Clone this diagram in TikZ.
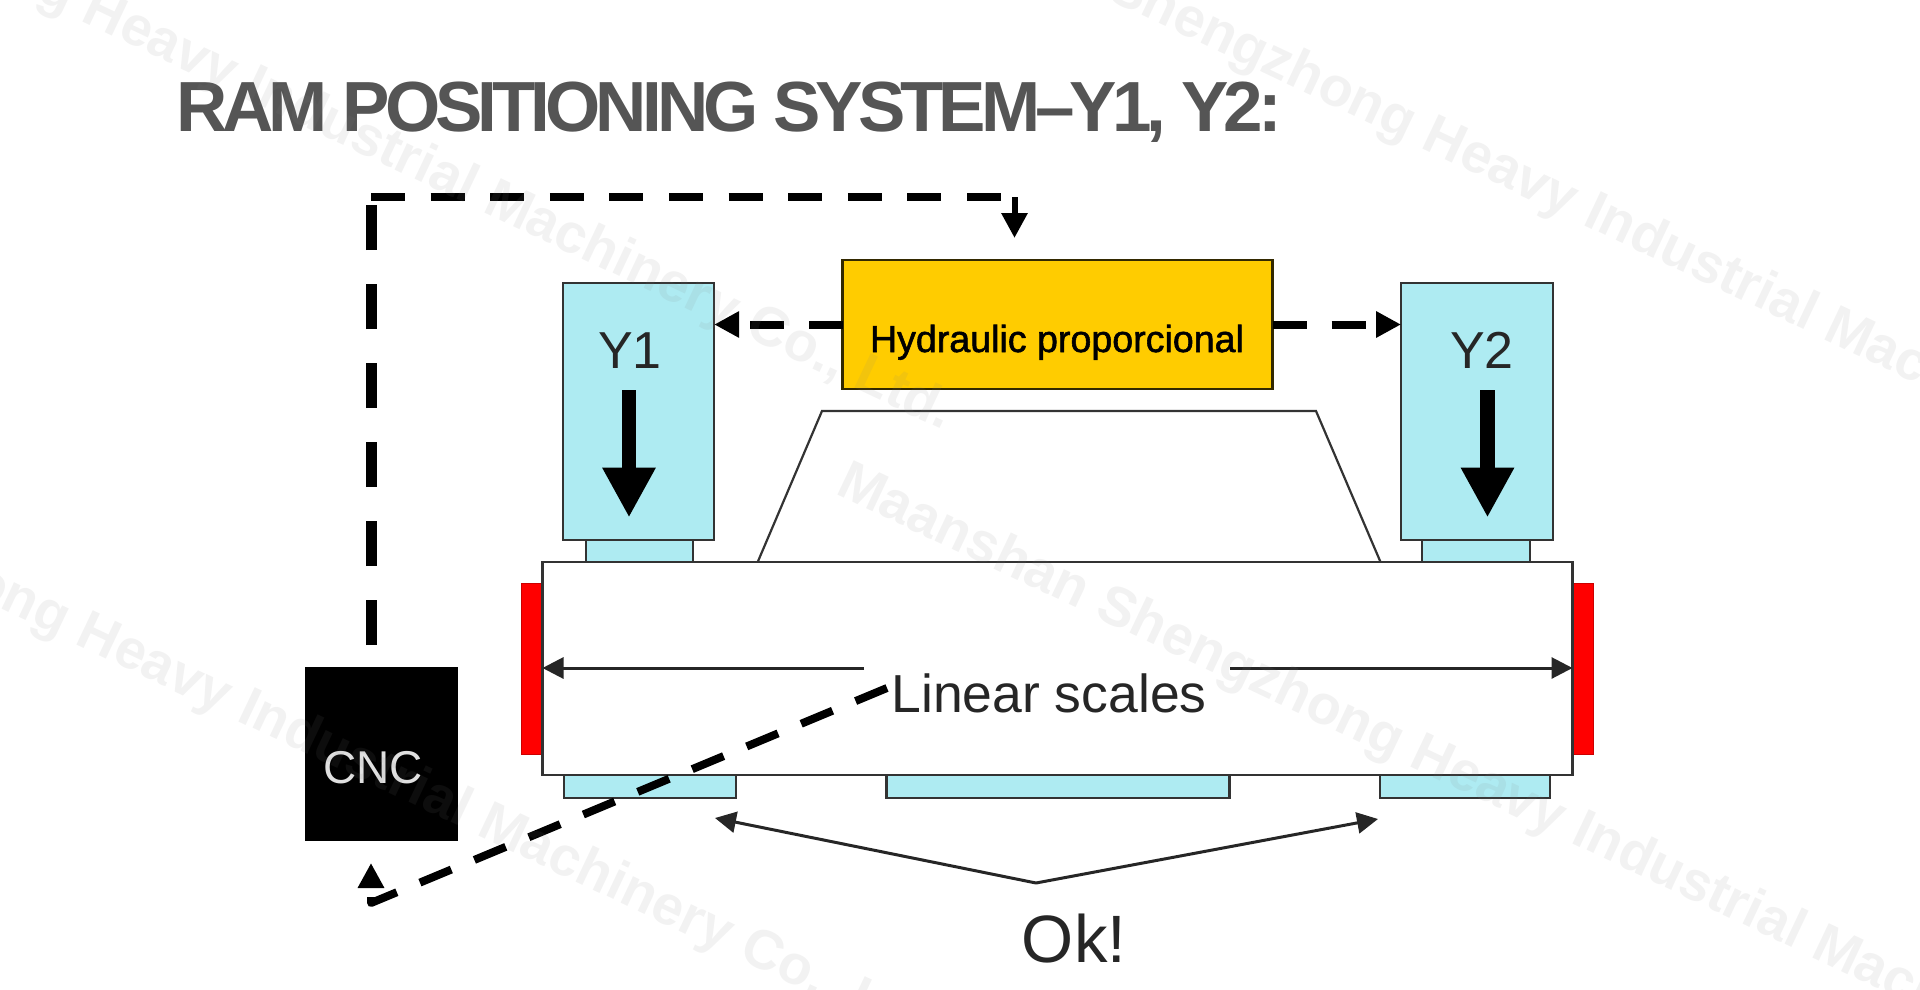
\documentclass[tikz,border=0pt]{standalone}
\usepackage{fontspec}
\setmainfont{Liberation Sans}
\newfontfamily\titlefont[LetterSpace=-7]{Liberation Sans}
\newfontfamily\heavyfont[FakeBold=1.5]{Liberation Sans}
\usetikzlibrary{arrows.meta}

\definecolor{cylblue}{HTML}{AEEBF2}
\definecolor{valveyellow}{HTML}{FFCC00}
\definecolor{titlegray}{HTML}{555555}
\definecolor{edgegray}{HTML}{333333}

\tikzset{
    part/.style={draw=edgegray, line width=2.4pt, inner sep=0pt, outer sep=0pt},
    bluepart/.style={part, fill=cylblue},
    redpart/.style={fill=red, draw=red!80!black, line width=1pt, inner sep=0pt, outer sep=0pt},
    caption/.style={inner sep=0pt, anchor=base, text=black!85},
    dashtall/.style={line width=11pt, dash pattern=on 45pt off 34pt},
    dashwide/.style={line width=8pt, dash pattern=on 34pt off 25.6pt},
    dashflow/.style={line width=8pt, line join=round, dash pattern=on 34pt off 25pt, -{Triangle[length=25pt,width=25pt]}},
    thinarrow/.style={line width=3pt, draw=black!85, -{Triangle[length=21pt,width=21pt]}},
    bigarrow/.style={line width=14.5pt, -{Triangle[length=50pt,width=50pt]}},
    stamp/.style={inner sep=0pt, anchor=base west, rotate=-25.4, text=gray, text opacity=0.1,
        font=\bfseries\fontsize{55.5}{55.5}\selectfont},
}

\begin{document}
\begin{tikzpicture}[x=1pt,y=-1pt]
\useasboundingbox (0,0) rectangle (1920,990);

% ===== Title =====
\node (title) [anchor=base west, inner sep=0pt, text=titlegray] at (176,131)
    {\titlefont\bfseries\fontsize{71}{71}\selectfont RAM POSITIONING SYSTEM–Y1, Y2:};

% ===== Press body =====
\foreach \name/\x in {scaleleft/532,scaleright/1583} {
    \node (\name) [redpart, minimum width=21pt, minimum height=171pt] at (\x,668.5) {};
}
\foreach \name/\x/\w in {padleft/650/172,padmid/1058/343,padright/1465/170} {
    \node (\name) [bluepart, minimum width=\w pt, minimum height=23pt] at (\x,786.5) {};
}
\node (rodleft) [bluepart, minimum width=107pt, minimum height=24pt] at (639.5,551) {};
\node (rodright) [bluepart, minimum width=108pt, minimum height=24pt] at (1476,551) {};
\node (body) [part, fill=white, minimum width=1030pt, minimum height=213pt] at (1057.5,668.5) {};
\draw[draw=edgegray, line width=2.2pt] (757.7,562) -- (822,411) -- (1316,411) -- (1380.5,562);

% ===== Cylinders =====
\node (cylleft) [bluepart, minimum width=151pt, minimum height=257pt] at (638.7,411.5) {};
\node (cylright) [bluepart, minimum width=152pt, minimum height=257pt] at (1477,411.5) {};
\node (labelleft) [caption, font=\fontsize{52}{52}\selectfont] at (630,368) {Y1};
\node (labelright) [caption, font=\fontsize{52}{52}\selectfont] at (1482,368) {Y2};
\foreach \x in {629,1487.5} {
    \draw[bigarrow] (\x,390) -- (\x,517.5);
}

% ===== Valve =====
\node (valve) [part, fill=valveyellow, draw=black!80!valveyellow, minimum width=430pt, minimum height=129pt] at (1057.5,324.5) {};
\node (valvetext) [inner sep=0pt, anchor=base, text=black] at (1057,352)
    {\heavyfont\fontsize{37.6}{37.6}\selectfont Hydraulic proporcional};
\draw[dashflow] (valve.west) -- (cylleft.east |- valve.west);
\draw[dashflow] (valve.east) -- (cylright.west |- valve.east);

% ===== CNC =====
\node (cnc) [fill=black, inner sep=0pt, outer sep=0pt, minimum width=153pt, minimum height=174pt] at (381,754) {};
\node (cnctext) [inner sep=0pt, anchor=base, text=black!12] at (373,783)
    {\fontsize{46}{46}\selectfont CNC};

% ===== CNC to valve =====
\coordinate (cornertop) at (371,197);
\coordinate (droptop) at (1014.5,197);
\draw[dashtall, shorten <=22pt, shorten >=8pt] (cnc.north -| cornertop) -- (cornertop);
\draw[dashwide, shorten >=13pt] (cornertop) -- (droptop);
\draw[line width=6pt, -{Triangle[length=25pt,width=25pt]}, shorten >=22pt] (droptop) -- (droptop |- valve.north);

% ===== Linear scales =====
\node (scaletext) [caption, font=\fontsize{53.5}{53.5}\selectfont] at (1049,712) {Linear scales};
\coordinate (arrowleft) at (864,668);
\coordinate (arrowright) at (1230,668);
\draw[thinarrow] (arrowleft) -- (body.west |- arrowleft);
\draw[thinarrow] (arrowright) -- (body.east |- arrowright);
\coordinate (scalefoot) at (887,688);
\coordinate (cornerlow) at (371,903);
\draw[dashflow, shorten >=22pt] (scalefoot) -- (cornerlow) -- (cornerlow |- cnc.south);

% ===== Ok =====
\node (oktext) [caption, font=\fontsize{67}{67}\selectfont] at (1074,962) {Ok!};
\coordinate (okapex) at (1036,883);
\coordinate (okleft) at (715,818);
\coordinate (okright) at (1378,819);
\draw[thinarrow] (okapex) -- (okleft);
\draw[thinarrow] (okapex) -- (okright);

% ===== Stamps =====
\begin{scope}
\clip (0,0) rectangle (1920,990);
\foreach \name/\x/\y in {stampa/-494/-252,stampb/846/-125,stampc/834/493,stampd/-500/371} {
    \node (\name) [stamp] at (\x,\y) {Maanshan Shengzhong Heavy Industrial Machinery Co., Ltd.};
}
\end{scope}

\end{tikzpicture}
\end{document}
